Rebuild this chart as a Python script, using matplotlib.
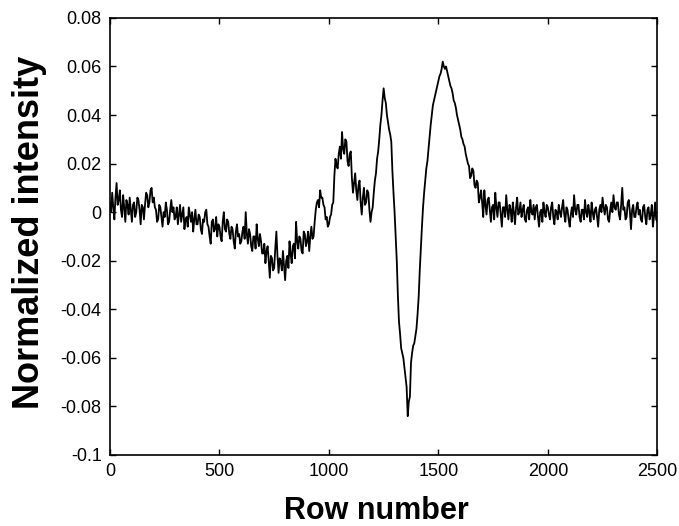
import numpy as np
import matplotlib.pyplot as plt

# normalized intensity, one value every 5 rows (0..2500)
row_step = 5
intensity = [
    # 0 - 95
    0.004, 0.000, 0.008, 0.002, -0.003, 0.006, 0.012, 0.003, 0.005, 0.009,
    0.001, -0.002, 0.007, 0.002, -0.004, 0.005, 0.003, -0.001, 0.006, 0.001,
    # 100 - 195
    -0.004, 0.003, 0.004, -0.002, 0.000, 0.006, 0.005, 0.001, -0.005, 0.003,
    0.002, -0.003, 0.003, 0.008, 0.007, 0.002, 0.004, 0.009, 0.010, 0.004,
    # 200 - 295
    0.006, 0.002, 0.001, -0.004, -0.003, 0.003, 0.002, -0.002, -0.006, 0.000,
    -0.002, 0.004, 0.001, -0.005, -0.004, 0.001, 0.005, 0.000, 0.002, -0.003,
    # 300 - 395
    -0.002, 0.002, -0.005, -0.001, 0.003, -0.004, -0.001, 0.002, -0.007, -0.003,
    -0.002, -0.006, 0.002, -0.001, -0.004, 0.000, -0.008, -0.003, 0.001, -0.005,
    # 400 - 495
    -0.005, -0.001, -0.002, -0.007, -0.009, -0.003, -0.004, 0.000, 0.001, -0.005,
    -0.006, -0.010, -0.013, -0.004, -0.003, -0.008, -0.007, -0.002, -0.010, -0.005,
    # 500 - 595
    -0.006, -0.010, -0.012, -0.004, 0.000, -0.007, -0.008, -0.003, -0.004, -0.009,
    -0.011, -0.006, -0.007, -0.012, -0.015, -0.008, -0.005, -0.010, -0.009, -0.013,
    # 600 - 695
    -0.012, -0.008, -0.006, -0.011, 0.000, -0.009, -0.013, -0.007, -0.009, -0.014,
    -0.016, -0.010, -0.010, -0.015, -0.005, -0.011, -0.014, -0.009, -0.012, -0.017,
    # 700 - 795
    -0.017, -0.013, -0.021, -0.016, -0.014, -0.020, -0.027, -0.018, -0.019, -0.024,
    -0.023, -0.015, -0.008, -0.018, -0.025, -0.019, -0.020, -0.024, -0.016, -0.022,
    # 800 - 895
    -0.028, -0.020, -0.018, -0.023, -0.012, -0.017, -0.021, -0.014, -0.013, -0.019,
    -0.004, -0.012, -0.015, -0.010, -0.011, -0.016, -0.017, -0.008, -0.009, -0.014,
    # 900 - 995
    -0.012, -0.008, -0.016, -0.010, -0.006, -0.011, -0.010, -0.004, 0.001, 0.004,
    0.005, 0.002, 0.009, 0.006, 0.006, 0.003, 0.002, -0.003, -0.002, -0.006,
    # 1000 - 1095
    -0.005, -0.002, -0.001, 0.003, 0.004, 0.015, 0.022, 0.019, 0.018, 0.024,
    0.027, 0.022, 0.033, 0.026, 0.024, 0.030, 0.029, 0.021, 0.019, 0.024,
    # 1100 - 1195
    0.025, 0.014, 0.008, 0.012, 0.016, 0.009, 0.005, 0.011, 0.013, 0.004,
    -0.001, 0.006, 0.010, 0.003, 0.004, 0.009, 0.008, 0.001, -0.004, 0.000,
    # 1200 - 1295
    0.002, 0.008, 0.013, 0.016, 0.022, 0.025, 0.030, 0.036, 0.040, 0.046,
    0.051, 0.047, 0.045, 0.040, 0.037, 0.034, 0.032, 0.029, 0.017, 0.008,
    # 1300 - 1395
    0.000, -0.010, -0.020, -0.034, -0.045, -0.050, -0.056, -0.058, -0.060, -0.064,
    -0.068, -0.072, -0.084, -0.078, -0.076, -0.062, -0.058, -0.055, -0.054, -0.051,
    # 1400 - 1495
    -0.048, -0.042, -0.035, -0.024, -0.015, -0.006, 0.002, 0.008, 0.013, 0.018,
    0.021, 0.026, 0.031, 0.036, 0.040, 0.044, 0.046, 0.048, 0.050, 0.052,
    # 1500 - 1595
    0.054, 0.056, 0.057, 0.059, 0.062, 0.060, 0.059, 0.060, 0.058, 0.056,
    0.054, 0.052, 0.051, 0.049, 0.046, 0.045, 0.043, 0.040, 0.038, 0.036,
    # 1600 - 1695
    0.034, 0.031, 0.030, 0.028, 0.027, 0.024, 0.022, 0.020, 0.019, 0.014,
    0.015, 0.018, 0.017, 0.011, 0.010, 0.013, 0.012, 0.004, 0.006, 0.009,
    # 1700 - 1795
    0.004, -0.002, 0.009, 0.003, -0.001, 0.005, 0.006, 0.001, -0.004, 0.002,
    0.003, -0.003, 0.008, 0.002, -0.002, 0.004, 0.004, -0.001, -0.006, 0.002,
    # 1800 - 1895
    0.002, -0.002, 0.007, 0.001, -0.003, 0.003, 0.001, -0.004, 0.004, 0.000,
    -0.005, 0.002, 0.006, -0.001, 0.000, 0.004, -0.002, 0.001, 0.003, -0.003,
    # 1900 - 1995
    -0.004, 0.001, 0.002, -0.003, 0.005, 0.000, -0.001, 0.003, -0.003, 0.002,
    0.003, -0.002, -0.006, 0.000, 0.001, -0.004, 0.004, 0.000, -0.002, 0.003,
    # 2000 - 2095
    0.002, -0.001, -0.003, 0.002, 0.004, -0.002, -0.005, 0.001, 0.000, -0.003,
    0.003, 0.000, -0.002, 0.002, 0.005, -0.001, -0.004, 0.002, 0.001, -0.003,
    # 2100 - 2195
    -0.006, -0.001, 0.002, -0.002, 0.007, 0.001, -0.001, 0.003, 0.003, -0.002,
    -0.004, 0.001, 0.001, -0.003, 0.005, 0.000, -0.002, 0.003, 0.000, -0.004,
    # 2200 - 2295
    0.004, 0.000, -0.003, 0.001, 0.002, -0.002, -0.006, 0.001, 0.003, 0.000,
    0.006, 0.002, -0.001, 0.003, 0.002, -0.003, -0.004, 0.001, 0.004, 0.000,
    # 2300 - 2395
    0.007, 0.002, 0.001, 0.004, 0.004, -0.001, -0.003, 0.003, 0.010, 0.001,
    0.002, -0.003, -0.002, 0.004, 0.005, 0.000, -0.007, 0.001, 0.003, -0.002,
    # 2400 - 2500
    -0.002, 0.002, 0.004, -0.001, 0.001, -0.003, -0.004, 0.002, 0.003, -0.002,
    -0.005, 0.001, 0.002, -0.003, -0.001, 0.003, -0.006, -0.002, 0.004, -0.003,
    -0.004,
]
rows = np.arange(len(intensity)) * row_step

x_ticks = [0, 500, 1000, 1500, 2000, 2500]
y_ticks = [-0.1, -0.08, -0.06, -0.04, -0.02, 0, 0.02, 0.04, 0.06, 0.08]
y_tick_labels = ['-0.1', '-0.08', '-0.06', '-0.04', '-0.02', '0',
                 '0.02', '0.04', '0.06', '0.08']

plt.rcParams['font.family'] = ['Liberation Sans', 'DejaVu Sans']

fig = plt.figure(figsize=(6.79, 5.26), dpi=100)
ax = fig.add_axes([0.162, 0.135, 0.806, 0.831])

ax.plot(rows, intensity, color='black', lw=1.3)

ax.set_xlim(0, 2500)
ax.set_ylim(-0.1, 0.08)
ax.set_xticks(x_ticks)
ax.set_yticks(y_ticks)
ax.set_yticklabels(y_tick_labels)
ax.tick_params(direction='in', top=True, right=True, length=4, width=1,
               labelsize=13, pad=6)
for s in ax.spines.values():
    s.set_linewidth(1.2)

ax.set_xlabel('Row number', fontsize=22, fontweight='bold')
ax.set_ylabel('Normalized intensity', fontsize=26, fontweight='bold')
ax.xaxis.set_label_coords(0.486, -0.093)
ax.yaxis.set_label_coords(-0.115, 0.51)

fig.savefig('out.png', dpi=100)
